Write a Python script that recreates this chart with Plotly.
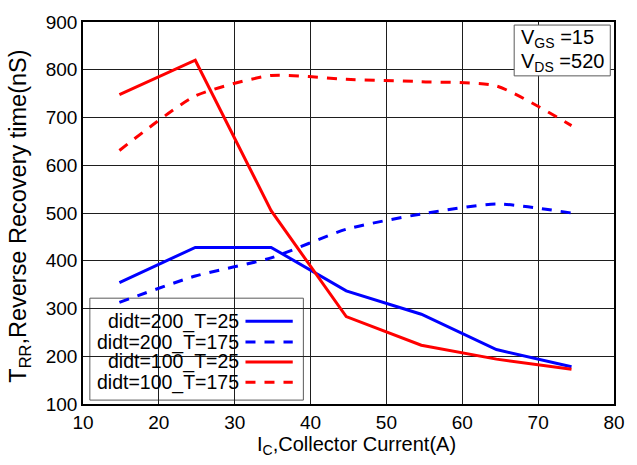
import plotly.graph_objects as go

# Collector current (A) sample points
ic = [14.8, 24.8, 34.8, 44.7, 54.6, 64.5, 74.4]

# Reverse recovery time (nS) per test condition
trr_200_25 = [354, 428, 428, 337, 288, 214, 178]
trr_200_175 = [313, 368, 406, 466, 498, 519, 500]
trr_100_25 = [748, 820, 505, 283, 223, 194, 173]
trr_100_175 = [631, 745, 788, 780, 775, 766, 683]

series_names = ["didt=200_T=25", "didt=200_T=175", "didt=100_T=25", "didt=100_T=175"]
series_values = [trr_200_25, trr_200_175, trr_100_25, trr_100_175]
series_colors = ["rgb(0,0,255)", "rgb(0,0,255)", "rgb(255,0,0)", "rgb(255,0,0)"]
series_dash = ["solid", "10px,9px", "solid", "10px,9px"]

x_ticks = [10, 20, 30, 40, 50, 60, 70, 80]
y_ticks = [100, 200, 300, 400, 500, 600, 700, 800, 900]

FONT = "Liberation Sans, Arial, Helvetica, sans-serif"
GRID = "rgb(30,30,30)"

fig = go.Figure()
for name, vals, col, dash in zip(series_names, series_values, series_colors, series_dash):
    fig.add_trace(go.Scatter(
        x=ic, y=vals, mode="lines", name=name,
        line=dict(color=col, width=3, dash=dash,
                  shape="linear" if dash == "solid" else "spline",
                  smoothing=0.6 if dash != "solid" else None),
        showlegend=False,
    ))

# Legend panel: text right-aligned, line samples on the right
lx0, lx1, ly0, ly1 = 0.0129, 0.415, 0.0102, 0.277
fig.add_shape(type="rect", xref="paper", yref="paper", x0=lx0, x1=lx1, y0=ly0, y1=ly1,
              fillcolor="white", line=dict(color="rgb(90,90,90)", width=1), layer="between")
row_y = [0.2166, 0.162, 0.110, 0.057]
for name, col, dash, yy in zip(series_names, series_colors, series_dash, row_y):
    fig.add_annotation(xref="paper", yref="paper", x=0.297, y=yy, text=name,
                       xanchor="right", yanchor="middle", showarrow=False,
                       font=dict(family=FONT, size=19.5, color="black"))
    fig.add_shape(type="line", xref="paper", yref="paper", x0=0.306, x1=0.395, y0=yy, y1=yy,
                  line=dict(color=col, width=3, dash=dash), layer="above")

# Bias condition box
fig.add_shape(type="rect", xref="paper", yref="paper", x0=0.812, x1=0.993, y0=0.859, y1=0.992,
              fillcolor="white", line=dict(color="rgb(90,90,90)", width=1), layer="above")
fig.add_annotation(xref="paper", yref="paper", x=0.822, y=0.957,
                   text="V<sub>GS</sub> =15", xanchor="left", yanchor="middle", showarrow=False,
                   font=dict(family=FONT, size=20, color="black"))
fig.add_annotation(xref="paper", yref="paper", x=0.822, y=0.893,
                   text="V<sub>DS</sub> =520", xanchor="left", yanchor="middle", showarrow=False,
                   font=dict(family=FONT, size=20, color="black"))

# Axis titles
fig.add_annotation(xref="paper", yref="paper", x=0.515, y=-0.108,
                   text="I<sub>C</sub>,Collector Current(A)", xanchor="center", yanchor="middle",
                   showarrow=False, font=dict(family=FONT, size=20, color="black"))
fig.add_annotation(xref="paper", yref="paper", x=-0.12, y=0.491, textangle=-90,
                   text="T<sub>RR</sub>,Reverse Recovery time(nS)", xanchor="center", yanchor="middle",
                   showarrow=False, font=dict(family=FONT, size=23.5, color="black"))

fig.update_xaxes(
    range=[10, 80], tickvals=x_ticks, ticktext=[str(v) for v in x_ticks],
    showgrid=True, gridcolor=GRID, gridwidth=1, zeroline=False,
    showline=True, linecolor="black", linewidth=1.5, mirror=True,
    ticks="", tickfont=dict(family=FONT, size=19, color="black"),
)
fig.update_yaxes(
    range=[100, 900], tickvals=y_ticks, ticktext=[str(v) for v in y_ticks],
    showgrid=True, gridcolor=GRID, gridwidth=1, zeroline=False,
    showline=True, linecolor="black", linewidth=1.5, mirror=True,
    ticks="", tickfont=dict(family=FONT, size=19, color="black"),
)
fig.update_layout(
    width=637, height=465,
    margin=dict(l=83, r=12, t=13, b=61),
    paper_bgcolor="white", plot_bgcolor="white",
    font=dict(family=FONT, color="black"),
)
fig.write_html("out.html")
